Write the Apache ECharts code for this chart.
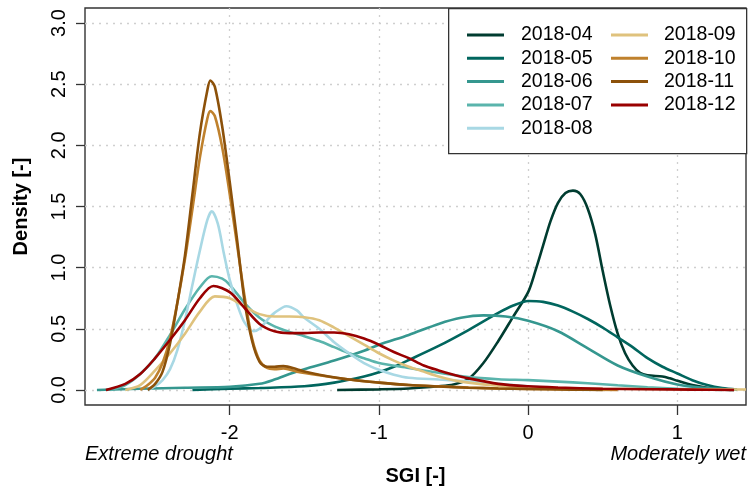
<!DOCTYPE html>
<html>
<head>
<meta charset="utf-8">
<title>SGI density</title>
<script src="https://cdn.jsdelivr.net/npm/echarts@6/dist/echarts.min.js"></script>
<style>
  html, body { margin: 0; padding: 0; background: #fff; }
  #chart { width: 749px; height: 486px; }
</style>
</head>
<body>
<div id="chart"></div>
<script>
// months shown in the legend
const months = ['2018-04', '2018-05', '2018-06', '2018-07', '2018-08', '2018-09', '2018-10', '2018-11', '2018-12']
const lineColors = ['#003c30', '#01665e', '#35978f', '#5ab4ac', '#a8d8e4', '#dfc27d', '#bf812d', '#8c510a', '#990000']

// axis ticks
const xTicks = [-2, -1, 0, 1]
const yTicks = [0, 0.5, 1, 1.5, 2, 2.5, 3]

// density curves, [SGI, density]
const apr = [[-1.28, 0], [-1.0, 0.005], [-0.8, 0.012], [-0.6, 0.03], [-0.5, 0.045], [-0.4, 0.09], [-0.3, 0.22], [-0.2, 0.40], [-0.1, 0.60], [0.0, 0.80], [0.05, 0.98], [0.1, 1.18], [0.15, 1.38], [0.2, 1.53], [0.25, 1.61], [0.3, 1.63], [0.35, 1.60], [0.4, 1.48], [0.45, 1.27], [0.5, 0.97], [0.55, 0.69], [0.6, 0.46], [0.65, 0.30], [0.7, 0.20], [0.75, 0.14], [0.8, 0.12], [0.9, 0.11], [0.95, 0.095], [1.0, 0.075], [1.1, 0.04], [1.2, 0.018], [1.3, 0.005], [1.38, 0]]
const may = [[-2.25, 0], [-2.0, 0.01], [-1.8, 0.016], [-1.5, 0.03], [-1.3, 0.06], [-1.1, 0.11], [-1.0, 0.145], [-0.9, 0.19], [-0.8, 0.245], [-0.6, 0.36], [-0.4, 0.49], [-0.2, 0.63], [-0.1, 0.69], [0.0, 0.727], [0.1, 0.72], [0.2, 0.69], [0.3, 0.64], [0.4, 0.58], [0.5, 0.51], [0.6, 0.43], [0.7, 0.35], [0.8, 0.26], [0.9, 0.19], [1.0, 0.135], [1.1, 0.08], [1.2, 0.04], [1.3, 0.015], [1.4, 0.003]]
const jun = [[-2.89, 0], [-2.6, 0.01], [-2.3, 0.018], [-2.0, 0.025], [-1.8, 0.05], [-1.7, 0.085], [-1.6, 0.13], [-1.5, 0.17], [-1.3, 0.24], [-1.1, 0.32], [-1.0, 0.37], [-0.8, 0.45], [-0.6, 0.54], [-0.45, 0.59], [-0.3, 0.61], [-0.15, 0.60], [0.0, 0.565], [0.2, 0.48], [0.4, 0.34], [0.6, 0.20], [0.8, 0.11], [1.0, 0.045], [1.2, 0.015], [1.4, 0.002]]
const jul = [[-2.8, 0], [-2.7, 0.04], [-2.6, 0.13], [-2.5, 0.26], [-2.4, 0.45], [-2.3, 0.66], [-2.2, 0.84], [-2.12, 0.93], [-2.05, 0.91], [-2.0, 0.86], [-1.9, 0.71], [-1.8, 0.59], [-1.7, 0.52], [-1.6, 0.475], [-1.5, 0.44], [-1.4, 0.40], [-1.3, 0.35], [-1.2, 0.30], [-1.1, 0.26], [-1.0, 0.22], [-0.8, 0.18], [-0.6, 0.14], [-0.4, 0.105], [-0.2, 0.088], [0.0, 0.08], [0.2, 0.068], [0.4, 0.055], [0.6, 0.038], [0.8, 0.022], [1.0, 0.01], [1.2, 0.003], [1.3, 0]]
const aug = [[-2.55, 0], [-2.5, 0.03], [-2.45, 0.08], [-2.4, 0.17], [-2.35, 0.33], [-2.3, 0.57], [-2.25, 0.86], [-2.2, 1.14], [-2.15, 1.39], [-2.12, 1.46], [-2.08, 1.36], [-2.04, 1.12], [-2.0, 0.90], [-1.95, 0.70], [-1.9, 0.55], [-1.84, 0.48], [-1.8, 0.50], [-1.75, 0.57], [-1.7, 0.63], [-1.62, 0.685], [-1.55, 0.65], [-1.5, 0.59], [-1.4, 0.50], [-1.3, 0.39], [-1.2, 0.30], [-1.1, 0.22], [-1.0, 0.165], [-0.9, 0.125], [-0.8, 0.10], [-0.6, 0.085], [-0.4, 0.07], [-0.2, 0.05], [0.0, 0.03], [0.2, 0.012], [0.4, 0]]
const sep = [[-2.7, 0], [-2.6, 0.04], [-2.5, 0.16], [-2.4, 0.30], [-2.3, 0.46], [-2.2, 0.64], [-2.1, 0.765], [-2.0, 0.75], [-1.9, 0.68], [-1.8, 0.62], [-1.7, 0.60], [-1.6, 0.60], [-1.5, 0.595], [-1.4, 0.57], [-1.3, 0.51], [-1.2, 0.44], [-1.1, 0.37], [-1.0, 0.30], [-0.9, 0.24], [-0.8, 0.19], [-0.7, 0.15], [-0.6, 0.11], [-0.5, 0.08], [-0.4, 0.06], [-0.2, 0.035], [0.0, 0.02], [0.5, 0.01], [1.0, 0.006], [1.46, 0.004]]
const oct = [[-2.6, 0], [-2.55, 0.04], [-2.5, 0.10], [-2.45, 0.22], [-2.4, 0.42], [-2.35, 0.72], [-2.3, 1.07], [-2.25, 1.48], [-2.2, 1.90], [-2.15, 2.22], [-2.13, 2.28], [-2.1, 2.24], [-2.05, 1.98], [-2.0, 1.60], [-1.95, 1.18], [-1.9, 0.76], [-1.85, 0.42], [-1.8, 0.24], [-1.75, 0.18], [-1.7, 0.17], [-1.64, 0.175], [-1.55, 0.15], [-1.4, 0.12], [-1.2, 0.085], [-1.0, 0.06], [-0.8, 0.04], [-0.6, 0.03], [-0.4, 0.02], [-0.2, 0.012], [0.0, 0.008], [0.3, 0.004], [0.6, 0]]
const nov = [[-2.55, 0], [-2.5, 0.05], [-2.45, 0.15], [-2.4, 0.38], [-2.35, 0.72], [-2.3, 1.10], [-2.25, 1.60], [-2.2, 2.10], [-2.15, 2.45], [-2.13, 2.53], [-2.1, 2.48], [-2.05, 2.15], [-2.0, 1.70], [-1.95, 1.22], [-1.9, 0.72], [-1.85, 0.40], [-1.8, 0.23], [-1.75, 0.19], [-1.7, 0.19], [-1.64, 0.195], [-1.55, 0.17], [-1.5, 0.15], [-1.4, 0.125], [-1.2, 0.085], [-1.0, 0.06], [-0.8, 0.04], [-0.6, 0.028], [-0.4, 0.018], [-0.2, 0.012], [0.0, 0.008], [0.3, 0.003], [0.5, 0]]
const dec = [[-2.83, 0], [-2.7, 0.05], [-2.6, 0.13], [-2.5, 0.26], [-2.4, 0.41], [-2.3, 0.57], [-2.2, 0.75], [-2.11, 0.85], [-2.0, 0.80], [-1.9, 0.67], [-1.8, 0.54], [-1.7, 0.48], [-1.6, 0.465], [-1.5, 0.465], [-1.4, 0.47], [-1.3, 0.47], [-1.2, 0.455], [-1.1, 0.42], [-1.0, 0.37], [-0.9, 0.31], [-0.8, 0.26], [-0.7, 0.20], [-0.6, 0.16], [-0.5, 0.125], [-0.4, 0.095], [-0.2, 0.05], [0.0, 0.03], [0.2, 0.02], [0.5, 0.01], [0.8, 0.006], [1.1, 0.003], [1.38, 0]]

const curves = [apr, may, jun, jul, aug, sep, oct, nov, dec]

const font = 'Liberation Sans, Arial, sans-serif'
const frameColor = '#333'
const gridLine = { color: '#cfcfcf', type: [2, 5], width: 1.3 }

const chart = echarts.init(document.getElementById('chart'), null, { renderer: 'canvas' })

const legendBase = {
  orient: 'vertical',
  top: 25,
  padding: 0,
  itemWidth: 37,
  itemHeight: 3,
  itemGap: 3.3,
  icon: 'rect',
  selectedMode: false,
  textStyle: { fontFamily: font, fontSize: 19.5, color: '#000', lineHeight: 20 }
}

chart.setOption({
  animation: false,
  backgroundColor: '#fff',
  textStyle: { fontFamily: font },
  grid: {
    left: 85, right: 3, top: 8, bottom: 81,
    outerBoundsMode: 'none',
    show: true, borderColor: frameColor, borderWidth: 1.4, backgroundColor: 'transparent'
  },
  xAxis: {
    type: 'value',
    min: -2.97,
    max: 1.46,
    name: 'SGI [-]',
    nameLocation: 'middle',
    nameGap: 61,
    nameTextStyle: { fontFamily: font, fontSize: 20, fontWeight: 'bold', color: '#000' },
    axisLine: { show: false, onZero: false },
    axisTick: { show: true, length: 10, customValues: xTicks, lineStyle: { color: frameColor, width: 1.3 } },
    axisLabel: { customValues: xTicks, fontSize: 20, color: '#000', margin: 18, fontFamily: font },
    splitLine: { show: true, lineStyle: gridLine }
  },
  yAxis: {
    type: 'value',
    min: -0.123,
    max: 3.123,
    name: 'Density [-]',
    nameLocation: 'middle',
    nameGap: 54,
    nameTextStyle: { fontFamily: font, fontSize: 20, fontWeight: 'bold', color: '#000' },
    axisLine: { show: false, onZero: false },
    axisTick: { show: true, length: 9, customValues: yTicks, lineStyle: { color: frameColor, width: 1.3 } },
    axisLabel: {
      customValues: yTicks, rotate: 90, fontSize: 20, color: '#000', margin: 16, fontFamily: font,
      formatter: v => v.toFixed(1)
    },
    splitLine: { show: true, lineStyle: gridLine }
  },
  legend: [
    Object.assign({}, legendBase, { left: 467, data: months.slice(0, 5), textStyle: Object.assign({}, legendBase.textStyle, { padding: [0, 0, 0, 12] }) }),
    Object.assign({}, legendBase, { left: 611, data: months.slice(5), textStyle: Object.assign({}, legendBase.textStyle, { padding: [0, 0, 0, 11] }) })
  ],
  graphic: [
    {
      type: 'rect', left: 448, top: 8, z: 3,
      shape: { width: 298, height: 145 },
      style: { fill: '#fff', stroke: frameColor, lineWidth: 1.3 }
    },
    {
      type: 'text', left: 85, top: 444,
      style: { text: 'Extreme drought', font: 'italic 20px ' + font, fill: '#000' }
    },
    {
      type: 'text', right: 3, top: 444,
      style: { text: 'Moderately wet', font: 'italic 20px ' + font, fill: '#000' }
    }
  ],
  series: months.map((m, i) => ({
    name: m,
    type: 'line',
    data: curves[i],
    showSymbol: false,
    smooth: 0.3,
    clip: true,
    color: lineColors[i],
    lineStyle: { width: 2.6, color: lineColors[i] }
  }))
})
</script>
</body>
</html>
